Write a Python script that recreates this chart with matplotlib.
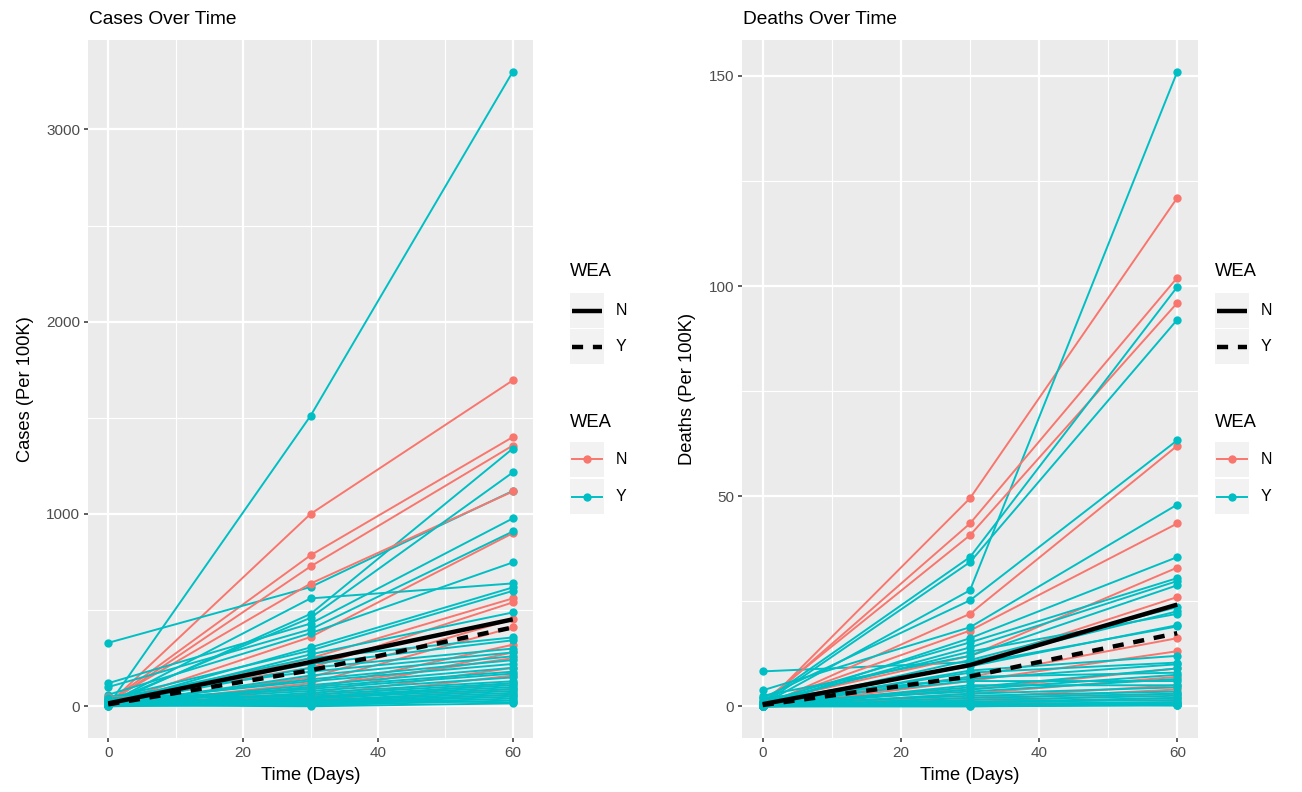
import matplotlib
matplotlib.use("Agg")
import matplotlib.pyplot as plt
from matplotlib.lines import Line2D
from matplotlib.patches import Rectangle
from itertools import zip_longest

plt.rcParams['font.family'] = ['Liberation Sans', 'DejaVu Sans']

days = [0, 30, 60]

# cases per 100K, one row per county (WEA = N)
cases_n = [
    [10, 1000, 1695], [20, 785, 1400], [15, 727, 1356], [25, 638, 1117],
    [10, 360, 900], [5, 250, 561], [30, 200, 540], [10, 150, 452],
    [5, 120, 410], [20, 90, 320], [40, 60, 280], [5, 100, 250],
    [10, 50, 200], [15, 40, 160], [0, 30, 120], [50, 20, 90], [5, 15, 60],
]
# cases per 100K (WEA = Y)
cases_y = [
    [5, 1510, 3300], [330, 620, 1120], [10, 480, 1340], [20, 460, 1216],
    [120, 430, 977], [100, 400, 909], [60, 380, 748], [15, 561, 639],
    [10, 306, 618], [40, 290, 600], [5, 270, 488], [30, 250, 358],
    [20, 220, 343], [10, 200, 300], [50, 180, 280], [5, 160, 260],
    [15, 140, 240], [25, 130, 220], [10, 110, 200], [0, 100, 180],
    [35, 90, 170], [20, 80, 150], [5, 70, 130], [10, 60, 120],
    [45, 50, 110], [15, 45, 100], [0, 40, 90], [10, 30, 80],
    [20, 25, 70], [5, 20, 60], [30, 15, 50], [0, 10, 40],
    [10, 5, 30], [5, 0, 15], [25, 35, 20],
]
# deaths per 100K (WEA = N)
deaths_n = [
    [0, 49.5, 121], [0.5, 43.5, 102], [1, 40.7, 96], [0, 22, 62],
    [0.5, 18, 43.5], [1, 12, 33], [0, 10, 26], [0.5, 7, 16.2],
    [0, 6, 13.1], [1, 4, 9], [0, 3, 7], [0.5, 2, 5],
    [0, 1.5, 4], [1, 1, 3], [0, 0.5, 2], [0, 0.3, 1], [0.5, 0.2, 0.5],
]
# deaths per 100K (WEA = Y)
deaths_y = [
    [0.5, 27.6, 151], [8.3, 10.5, 22.6], [1, 35.5, 99.8], [0.5, 34.3, 92],
    [2, 25.2, 63.3], [3.8, 18.8, 48], [0, 16.2, 35.5], [1, 15.2, 30.5],
    [0.5, 14, 29.8], [2.5, 12, 28.8], [0, 11, 23.6], [1, 9.5, 19.3],
    [0.5, 8, 10.4], [0, 7, 8], [1, 6, 6], [0, 5, 5],
    [0.5, 4.5, 9], [0, 4, 7.5], [1, 3.5, 6.5], [0, 3, 4.5],
    [0.5, 2.5, 3.5], [0, 2, 3], [0, 1.5, 2.5], [0.5, 1, 2],
    [0, 1, 1.5], [0, 0.5, 1], [0, 0.5, 0.8], [0, 0, 0.5],
    [0, 0.2, 0.3], [0, 0, 0.2], [1, 13, 22], [0.5, 10, 19],
    [0, 8.5, 12], [2, 6.5, 10], [0, 0.8, 0.2],
]
# group means (black lines)
cases_mean_n = [15, 230, 452]
cases_mean_y = [10, 187, 410]
deaths_mean_n = [0.5, 9.8, 24.2]
deaths_mean_y = [0.3, 7.1, 17.4]

RED = '#F8766D'
CYAN = '#00BFC4'
BG = '#EBEBEB'
DASH = (0, (2.5, 2.2))

fig = plt.figure(figsize=(13.02, 7.92), dpi=100)
W, H = 1302, 792


def panel(x0, x1, y0, y1):
    return fig.add_axes([x0 / W, 1 - y1 / H, (x1 - x0) / W, (y1 - y0) / H])


def draw(ax, rows_n, rows_y, mean_n, mean_y, ylim, ymajor, yminor, title, ylabel):
    ax.set_facecolor(BG)
    for s in ax.spines.values():
        s.set_visible(False)
    ax.set_xlim(-3, 63)
    ax.set_ylim(*ylim)
    ax.set_xticks([0, 20, 40, 60])
    ax.set_xticks([10, 30, 50], minor=True)
    ax.set_yticks(ymajor)
    ax.set_yticks(yminor, minor=True)
    ax.grid(which='major', color='white', lw=1.6)
    ax.grid(which='minor', color='white', lw=0.8)
    ax.set_axisbelow(True)
    ax.tick_params(which='major', length=3.2, width=1.1, color='#333333',
                   labelcolor='#4D4D4D', labelsize=11, pad=2.5)
    ax.tick_params(which='minor', length=0)

    for rn, ry in zip_longest(rows_n, rows_y):
        for row, col in ((rn, RED), (ry, CYAN)):
            if row is None:
                continue
            ax.plot(days, row, color=col, lw=1.4, zorder=2)
            ax.plot(days, row, 'o', color=col, ms=6, mec='none', zorder=3)

    ax.plot(days, mean_n, color='black', lw=3.2, zorder=4, solid_capstyle='butt')
    ax.plot(days, mean_y, color='black', lw=3.2, ls=DASH, zorder=4)

    ax.set_xlabel('Time (Days)', fontsize=13.2, labelpad=5)
    ax.set_ylabel(ylabel, fontsize=13.2, labelpad=9)
    fig.text(ax.get_position().x0 + 1 / W, 1 - 19 / H, title, fontsize=13.8,
             ha='left', va='center')


ax1 = panel(88, 533, 40, 738)
draw(ax1, cases_n, cases_y, cases_mean_n, cases_mean_y, (-165, 3465),
     [0, 1000, 2000, 3000], [500, 1500, 2500], 'Cases Over Time', 'Cases (Per 100K)')

ax2 = panel(742, 1198, 40, 738)
draw(ax2, deaths_n, deaths_y, deaths_mean_n, deaths_mean_y, (-7.55, 158.55),
     [0, 50, 100, 150], [25, 75, 125], 'Deaths Over Time', 'Deaths (Per 100K)')


def legend(x):
    # x = left edge of the legend in pixels
    def fx(px):
        return px / W

    def fy(py):
        return 1 - py / H

    fig.text(fx(x), fy(272), 'WEA', fontsize=13.2, ha='left', va='center')
    fig.text(fx(x), fy(422), 'WEA', fontsize=13.2, ha='left', va='center')
    keys = [
        (293, 'N', dict(color='black', lw=3.2, solid_capstyle='butt'), None),
        (329, 'Y', dict(color='black', lw=3.2, ls=DASH), None),
        (442, 'N', dict(color=RED, lw=1.4), RED),
        (479, 'Y', dict(color=CYAN, lw=1.4), CYAN),
    ]
    for top, lab, style, mcol in keys:
        fig.add_artist(Rectangle((fx(x), fy(top + 35)), 34 / W, 35 / H,
                                 transform=fig.transFigure, facecolor='#F2F2F2',
                                 edgecolor='none'))
        cy = fy(top + 17.5)
        fig.add_artist(Line2D([fx(x + 2), fx(x + 32)], [cy, cy],
                              transform=fig.transFigure, **style))
        if mcol:
            fig.add_artist(Line2D([fx(x + 17)], [cy], transform=fig.transFigure,
                                  marker='o', ms=6, color=mcol, mec='none', ls='none'))
        fig.text(fx(x + 46), cy, lab, fontsize=11.5, ha='left', va='center')


legend(570)
legend(1215)

fig.savefig('out.png', dpi=100)
